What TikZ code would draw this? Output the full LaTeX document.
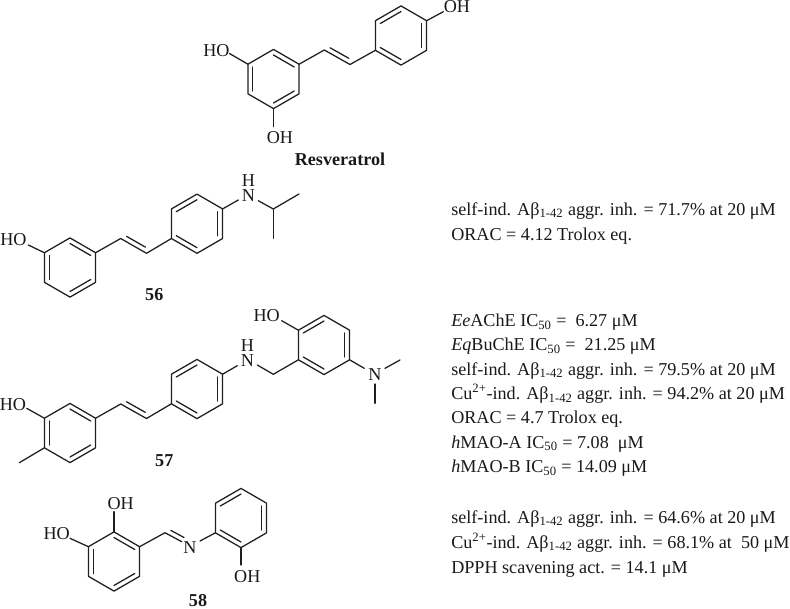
\documentclass[tikz,border=0pt]{standalone}
\usepackage{fontspec}
\setmainfont{Liberation Serif}
\usetikzlibrary{calc}
\newcommand\MyRing[3]{%
  \coordinate (#1c) at (#2,#3);
  \coordinate (#1v1) at ($(#1c)+(0,-29.6)$);
  \coordinate (#1v2) at ($(#1c)+(25.6,-14.8)$);
  \coordinate (#1v3) at ($(#1c)+(25.6,14.8)$);
  \coordinate (#1v4) at ($(#1c)+(0,29.6)$);
  \coordinate (#1v5) at ($(#1c)+(-25.6,14.8)$);
  \coordinate (#1v6) at ($(#1c)+(-25.6,-14.8)$);
  \draw[bondline] (#1v1)--(#1v2)--(#1v3)--(#1v4)--(#1v5)--(#1v6)--cycle;
}
\newcommand\MyIn[3]{\draw[bondline] ($(#1v#2)!0.19!(#1c)$)--($(#1v#3)!0.19!(#1c)$);}
\newcommand\MyKekA[1]{\MyIn{#1}{1}{2}\MyIn{#1}{3}{4}\MyIn{#1}{5}{6}}
\newcommand\MyKekB[1]{\MyIn{#1}{6}{1}\MyIn{#1}{2}{3}\MyIn{#1}{4}{5}}
\newcommand\MyDbl[2]{\draw[bondline,shorten <=3pt,shorten >=3pt] ($(#1)!3.6pt!90:(#2)$)--($(#2)!3.6pt!-90:(#1)$);}
\newcommand\MyUnder[1]{\textsubscript{#1}}
\tikzset{
  bondline/.style={line width=0.95pt,line cap=round,line join=round,draw=black!88},
  atomlabel/.style={inner sep=0pt,font=\fontsize{13.6pt}{11.6pt}\selectfont,text=black!90,align=center},
  titlelabel/.style={inner sep=0pt,font=\fontsize{13.6pt}{15pt}\selectfont\bfseries,text=black!90},
  datatext/.style={inner sep=0pt,anchor=base west,font=\fontsize{13.6pt}{15pt}\selectfont,text=black!90},
}
\begin{document}
\begin{tikzpicture}[x=0.75pt,y=-0.75pt]
\useasboundingbox (0,0) rectangle (790,608);
%% Resveratrol
\MyRing{ra}{273.5}{79}\MyKekA{ra}
\MyRing{rb}{401}{35.5}\MyKekB{rb}
\coordinate (rv1) at (324.3,50);
\coordinate (rv2) at (350,64.5);
\draw[bondline] (rav2)--(rv1)--(rv2)--(rbv5);
\MyDbl{rv1}{rv2}
\node[atomlabel] (roh1) at (457,7) {OH};
\coordinate (rb1) at (443.3,11.7);
\draw[bondline] (rbv2)--(rb1);
\node[atomlabel] (rho) at (216.5,50.5) {HO};
\coordinate (rb2) at (229.5,53.5);
\draw[bondline] (rav6)--(rb2);
\node[atomlabel] (roh2) at (280,138) {OH};
\coordinate (rb3) at (273.5,126.7);
\draw[bondline] (rav4)--(rb3);
\node[titlelabel] (rname) at (340,159) {Resveratrol};
%% 56
\MyRing{sa}{70}{267.5}\MyKekA{sa}
\MyRing{sb}{197}{223.7}\MyKekB{sb}
\coordinate (sv1) at (120.7,238.5);
\coordinate (sv2) at (146.5,253.3);
\draw[bondline] (sav2)--(sv1)--(sv2)--(sbv5);
\MyDbl{sv1}{sv2}
\node[atomlabel] (sho) at (13.5,240) {HO};
\coordinate (sb1) at (28.3,245);
\draw[bondline] (sav6)--(sb1);
\node[atomlabel] (sn) at (248.3,188) {H\\N};
\coordinate (sb2) at (238.3,200);
\coordinate (sb3) at (258.3,200.7);
\coordinate (sc1) at (273.3,209);
\coordinate (sc2) at (299,194);
\coordinate (sc3) at (273.3,238.3);
\draw[bondline] (sbv2)--(sb2);
\draw[bondline] (sb3)--(sc1)--(sc2);
\draw[bondline] (sc1)--(sc3);
\node[titlelabel] (sname) at (154.3,295) {56};
%% 57
\MyRing{ta}{70}{433}\MyKekA{ta}
\MyRing{tb}{197}{389}\MyKekB{tb}
\MyRing{tc}{324}{345}\MyKekB{tc}
\coordinate (tv1) at (120.7,404);
\coordinate (tv2) at (146.5,418.5);
\draw[bondline] (tav2)--(tv1)--(tv2)--(tbv5);
\MyDbl{tv1}{tv2}
\node[atomlabel] (tho) at (13,404.3) {HO};
\coordinate (tb1) at (26.7,408.3);
\draw[bondline] (tav6)--(tb1);
\coordinate (tme) at (19.3,462.7);
\draw[bondline] (tav5)--(tme);
\node[atomlabel] (tn) at (247.3,353.3) {H\\N};
\coordinate (tb2) at (237.3,365.7);
\coordinate (tb3) at (257.3,365);
\coordinate (tc1) at (273.3,374.3);
\draw[bondline] (tbv2)--(tb2);
\draw[bondline] (tb3)--(tc1)--(tcv5);
\node[atomlabel] (tho2) at (266.7,316) {HO};
\coordinate (tb4) at (281.7,320.7);
\draw[bondline] (tcv6)--(tb4);
\node[atomlabel] (tnn) at (375,375) {N};
\coordinate (tb5) at (364.3,368.3);
\coordinate (tb6) at (385,368.3);
\coordinate (tm1) at (400,360);
\coordinate (tb7) at (375,384);
\coordinate (tm2) at (375,403.3);
\draw[bondline] (tcv3)--(tb5);
\draw[bondline] (tb6)--(tm1);
\draw[bondline] (tb7)--(tm2);
\node[titlelabel] (tname) at (164.3,460.7) {57};
%% 58
\MyRing{ua}{114}{561.5}\MyKekA{ua}
\MyRing{ub}{241}{518}\MyKekB{ub}
\node[atomlabel] (uoh) at (120.7,504) {OH};
\coordinate (ub1) at (114,511.7);
\draw[bondline] (uav1)--(ub1);
\node[atomlabel] (uho) at (56.7,533.3) {HO};
\coordinate (ub2) at (70,538.3);
\draw[bondline] (uav6)--(ub2);
\node[atomlabel] (un) at (190,547.7) {N};
\coordinate (uv1) at (165,532.7);
\coordinate (ub3) at (181.7,541.7);
\coordinate (ub4) at (200,541);
\draw[bondline] (uav2)--(uv1)--(ub3);
\draw[bondline,shorten <=3pt] ($(uv1)!3.6pt!90:(ub3)$)--($(ub3)!3.6pt!-90:(uv1)$);
\draw[bondline] (ub4)--(ubv5);
\node[atomlabel] (uoh2) at (247.3,576.7) {OH};
\coordinate (ub5) at (241,565);
\draw[bondline] (ubv4)--(ub5);
\node[titlelabel] (uname) at (198,600.3) {58};
%% data
\def\U{μM}
\node[datatext] (d1) at (451,215) {self-ind. Aβ\MyUnder{1-42} aggr. inh. = 71.7\% at 20 \U};
\node[datatext] (d2) at (451,240.5) {ORAC = 4.12 Trolox eq.};
\node[datatext] (e1) at (451,326.5) {\textit{Ee}AChE IC\MyUnder{50} =~ 6.27 \U};
\node[datatext] (e2) at (451,350.8) {\textit{Eq}BuChE IC\MyUnder{50} =~ 21.25 \U};
\node[datatext] (e3) at (451,375.1) {self-ind. Aβ\MyUnder{1-42} aggr. inh. = 79.5\% at 20 \U};
\node[datatext] (e4) at (451,399.4) {Cu\textsuperscript{2+}-ind. Aβ\MyUnder{1-42} aggr. inh. = 94.2\% at 20 \U};
\node[datatext] (e5) at (451,423.7) {ORAC = 4.7 Trolox eq.};
\node[datatext] (e6) at (451,448) {\textit{h}MAO-A IC\MyUnder{50} = 7.08~ \U};
\node[datatext] (e7) at (451,472.3) {\textit{h}MAO-B IC\MyUnder{50} = 14.09 \U};
\node[datatext] (f1) at (451,523) {self-ind. Aβ\MyUnder{1-42} aggr. inh. = 64.6\% at 20 \U};
\node[datatext] (f2) at (451,548) {Cu\textsuperscript{2+}-ind. Aβ\MyUnder{1-42} aggr. inh. = 68.1\% at~ 50 \U};
\node[datatext] (f3) at (451,573) {DPPH scavening act. = 14.1 \U};
\end{tikzpicture}
\end{document}
